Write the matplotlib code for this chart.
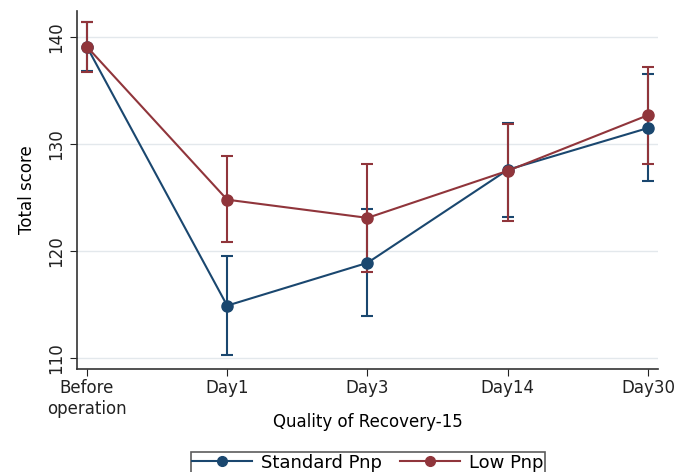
import matplotlib.pyplot as plt
from matplotlib.lines import Line2D

timepoints = ['Before\noperation', 'Day1', 'Day3', 'Day14', 'Day30']

standard_mean = [139.1, 114.9, 118.9, 127.6, 131.5]
standard_low = [136.8, 110.3, 113.9, 123.2, 126.5]
standard_high = [141.4, 119.5, 123.9, 132.0, 136.5]

low_mean = [139.1, 124.8, 123.1, 127.5, 132.7]
low_low = [136.7, 120.8, 118.0, 122.8, 128.1]
low_high = [141.4, 128.9, 128.1, 131.9, 137.2]

blue = '#1a476f'
red = '#90353b'

fig = plt.figure(figsize=(6.9, 4.72), dpi=100)
ax = fig.add_axes([0.1116, 0.218, 0.842, 0.7587])

x = list(range(len(timepoints)))


def draw(mean, lo, hi, color):
    yerr = [[m - l for m, l in zip(mean, lo)], [h - m for m, h in zip(mean, hi)]]
    ax.errorbar(x, mean, yerr=yerr, color=color, marker='o', markersize=8,
                linewidth=1.5, elinewidth=1.5, capsize=4, capthick=1.5)


draw(standard_mean, standard_low, standard_high, blue)
draw(low_mean, low_low, low_high, red)

ax.set_xlim(-0.07, 4.07)
ax.set_ylim(108.97, 142.43)
ax.set_xticks(x)
ax.set_xticklabels(timepoints, fontsize=12)
ax.set_yticks([110, 120, 130, 140])
ax.set_yticklabels(['110', '120', '130', '140'], fontsize=12, rotation=90, va='center')
ax.grid(axis='y', color='#e3e8ec', linewidth=1)
ax.set_axisbelow(True)
for s in ['top', 'right']:
    ax.spines[s].set_visible(False)
for s in ['left', 'bottom']:
    ax.spines[s].set_color('#333333')
    ax.spines[s].set_linewidth(1.2)
ax.tick_params(colors='#222222', length=5)
ax.tick_params(axis='x', pad=2)
ax.set_ylabel('Total score', fontsize=12, labelpad=8)
ax.set_xlabel('Quality of Recovery-15', fontsize=12, labelpad=-3)

handles = [Line2D([], [], color=blue, marker='o', markersize=7, linewidth=1.5),
           Line2D([], [], color=red, marker='o', markersize=7, linewidth=1.5)]
leg = fig.legend(handles, ['Standard Pnp', 'Low Pnp'], loc='upper center',
                 bbox_to_anchor=(0.533, 0.062), ncol=2, fontsize=13, frameon=True,
                 fancybox=False, edgecolor='#333333', handlelength=3.3,
                 columnspacing=1.0, borderpad=0.1, handletextpad=0.5)
leg.get_frame().set_linewidth(1.2)

fig.savefig('out.png', dpi=100)
